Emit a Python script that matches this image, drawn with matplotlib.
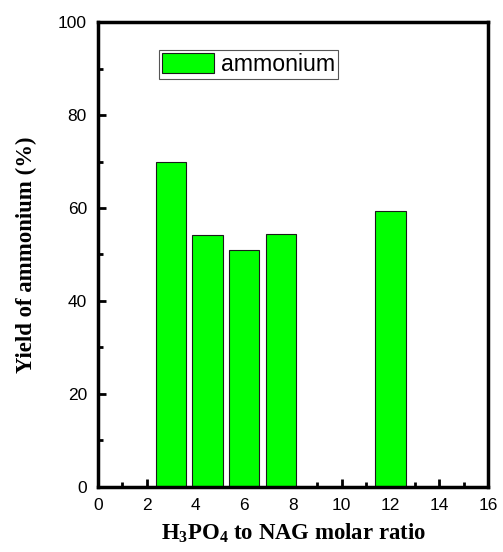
import matplotlib
matplotlib.use("Agg")
import matplotlib.pyplot as plt
from matplotlib.ticker import MultipleLocator

# H3PO4 : NAG molar ratio and ammonium yield (%)
ratios = [3, 4.5, 6, 7.5, 12]
yields = [70.0, 54.2, 51.0, 54.3, 59.4]
series_label = "ammonium"
x_ticks = [0, 2, 4, 6, 8, 10, 12, 14, 16]
y_ticks = [0, 20, 40, 60, 80, 100]

plt.rcParams["mathtext.fontset"] = "custom"
plt.rcParams["mathtext.rm"] = "Liberation Serif"
plt.rcParams["mathtext.bf"] = "Liberation Serif:bold"

fig = plt.figure(figsize=(5.03, 5.52), dpi=100)
ax = fig.add_axes([0.195, 0.118, 0.775, 0.842])

ax.bar(ratios, yields, width=1.25, color="#00ff00", edgecolor="#1a1a1a",
       linewidth=0.8, label=series_label, zorder=2)

ax.set_xlim(0, 16)
ax.set_ylim(0, 100)
ax.set_xticks(x_ticks)
ax.set_yticks(y_ticks)
ax.xaxis.set_minor_locator(MultipleLocator(1))
ax.yaxis.set_minor_locator(MultipleLocator(10))

ax.tick_params(which="both", direction="in", top=False, right=False,
               width=2, labelsize=12.5, pad=8)
ax.tick_params(which="major", length=6)
ax.tick_params(which="minor", length=3.5)
for lab in ax.get_xticklabels() + ax.get_yticklabels():
    lab.set_fontfamily("Liberation Sans")

for sp in ax.spines.values():
    sp.set_linewidth(2.5)
    sp.set_zorder(3)

ax.set_xlabel(r"$\mathbf{H_3PO_4}$ to NAG molar ratio", fontfamily="Liberation Serif",
              fontweight="bold", fontsize=16.4, labelpad=6)
ax.set_ylabel("Yield of ammonium (%)", fontfamily="Liberation Serif",
              fontweight="bold", fontsize=16.4, labelpad=15)

leg = ax.legend(loc="upper left", bbox_to_anchor=(0.156, 0.940),
                prop={"family": "Liberation Sans", "size": 16.7},
                frameon=True, fancybox=False, edgecolor="#555555",
                handlelength=2.25, handleheight=0.95, handletextpad=0.3,
                borderpad=0.12, borderaxespad=0.0, framealpha=1)
leg.get_frame().set_linewidth(0.8)

fig.savefig("out.png", dpi=100)
